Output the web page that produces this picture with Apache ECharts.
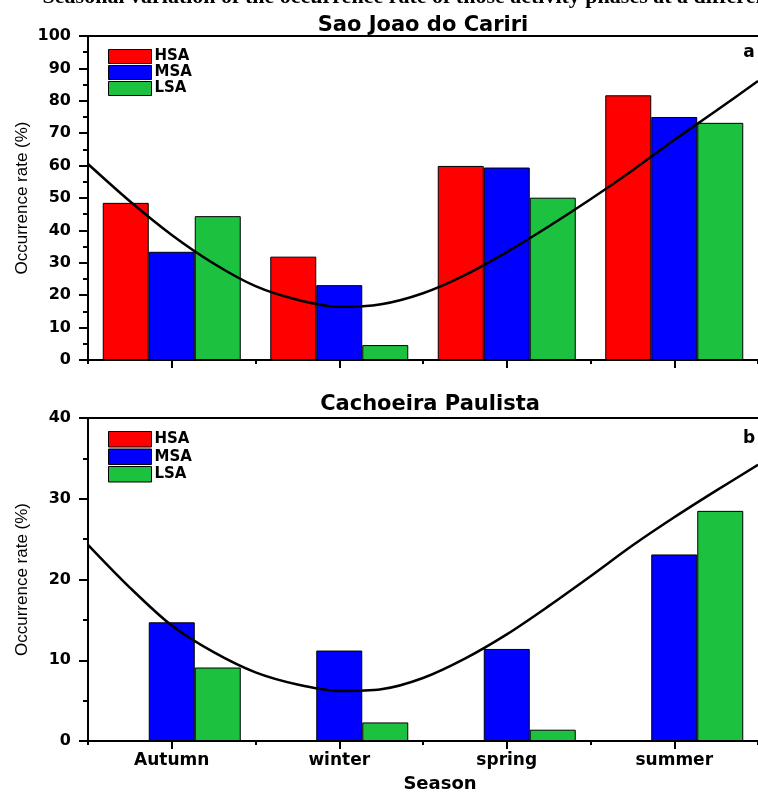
<!DOCTYPE html>
<html>
<head>
<meta charset="utf-8">
<script src="https://cdn.jsdelivr.net/npm/echarts@6/dist/echarts.min.js"></script>
<style>
  html, body { margin: 0; padding: 0; background: #fff; }
  #chart { width: 758px; height: 792px; }
</style>
</head>
<body>
<div id="chart"></div>
<script>
// Seasons on the category axis
const seasons = ['Autumn', 'winter', 'spring', 'summer'];

// Sao Joao do Cariri: occurrence rate (%) per activity phase
const sjcHSA = [48.5, 31.9, 59.9, 81.7];
const sjcMSA = [33.4, 23.1, 59.4, 75.0];
const sjcLSA = [44.4, 4.6, 50.1, 73.2];

// Cachoeira Paulista: occurrence rate (%) per activity phase
const cpHSA = [0, 0, 0, 0];
const cpMSA = [14.7, 11.2, 11.4, 23.1];
const cpLSA = [9.1, 2.3, 1.4, 28.5];

// Seasonal trend curves, sampled every quarter season (Autumn = 0)
const fitX = [-0.5, -0.25, 0, 0.25, 0.5, 0.75, 1, 1.25, 1.5, 1.75, 2, 2.25, 2.5, 2.75, 3, 3.25, 3.5];
const sjcFitY = [60.5, 49.0, 38.6, 29.8, 22.8, 18.6, 16.4, 17.2, 20.6, 26.2, 33.3, 41.2, 49.6, 58.5, 67.9, 76.9, 86.1];
const cpFitY = [24.3, 19.0, 14.3, 11.0, 8.5, 7.0, 6.2, 6.4, 7.8, 10.2, 13.2, 16.7, 20.4, 24.2, 27.7, 31.0, 34.2];

// Axis ranges
const sjcMax = 100, sjcStep = 10;
const cpMax = 40, cpStep = 10;

const phaseNames = ['HSA', 'MSA', 'LSA'];
const phaseColors = ['#ff0000', '#0000ff', '#1bc13f'];

const BOLD = 'DejaVu Sans';
const ink = '#000';

function zip(xs, ys) { return xs.map((x, i) => [x, ys[i]]); }

function xAxesFor(grid, showLabels) {
  return [
    { // category axis with ticks under each season
      type: 'category', gridIndex: grid, data: seasons, position: 'bottom',
      axisLine: { show: true, onZero: false, lineStyle: { color: ink, width: 2 } },
      axisTick: { show: true, alignWithLabel: true, length: 8, lineStyle: { color: ink, width: 2 } },
      axisLabel: { show: showLabels, color: ink, fontFamily: BOLD, fontWeight: 'bold', fontSize: 17, margin: 11 },
      splitLine: { show: false }
    },
    { // short ticks on the category boundaries
      type: 'category', gridIndex: grid, data: seasons, position: 'bottom',
      axisLine: { show: false, onZero: false },
      axisTick: { show: true, alignWithLabel: false, length: 4, lineStyle: { color: ink, width: 2 } },
      axisLabel: { show: false },
      splitLine: { show: false }
    },
    { // continuous axis for the trend curve, also draws the top frame line
      type: 'value', gridIndex: grid, min: -0.5, max: 3.5, position: 'top',
      axisLine: { show: true, onZero: false, lineStyle: { color: ink, width: 2 } },
      axisTick: { show: false }, axisLabel: { show: false }, splitLine: { show: false }
    }
  ];
}

function yAxisFor(grid, max, step) {
  return {
    type: 'value', gridIndex: grid, min: 0, max: max, interval: step, position: 'left',
    name: 'Occurrence rate (%)', nameLocation: 'middle', nameGap: 57, nameMoveOverlap: false,
    nameTextStyle: { color: ink, fontFamily: 'Liberation Sans, Arial', fontSize: 17 },
    axisLine: { show: true, onZero: false, lineStyle: { color: ink, width: 2 } },
    axisTick: { show: true, length: 9, lineStyle: { color: ink, width: 2 } },
    minorTick: { show: true, splitNumber: 2, length: 5, lineStyle: { color: ink, width: 2 } },
    axisLabel: { color: ink, fontFamily: BOLD, fontWeight: 'bold', fontSize: 16, margin: 17 },
    splitLine: { show: false }
  };
}

function barSeries(name, data, color, xIdx, yIdx) {
  return {
    name: name, type: 'bar', data: data, xAxisIndex: xIdx, yAxisIndex: yIdx,
    barWidth: 46, barGap: '0%',
    itemStyle: { color: color, borderColor: ink, borderWidth: 1 },
    emphasis: { disabled: true }
  };
}

function curveSeries(name, data, xIdx, yIdx) {
  return {
    name: name, type: 'line', data: data, xAxisIndex: xIdx, yAxisIndex: yIdx,
    smooth: 0.3, showSymbol: false, symbol: 'none', z: 5, silent: true,
    lineStyle: { color: ink, width: 2.5 }
  };
}

function legendFor(top, h) {
  return {
    orient: 'vertical', left: 103, top: top,
    data: phaseNames, icon: 'rect', itemWidth: 43, itemHeight: h, itemGap: 1,
    selectedMode: false,
    itemStyle: { borderColor: ink, borderWidth: 1 },
    textStyle: { color: ink, fontFamily: BOLD, fontWeight: 'bold', fontSize: 15, lineHeight: h, padding: [0, 0, 0, -2] }
  };
}

const chart = echarts.init(document.getElementById('chart'), null, { renderer: 'canvas' });

chart.setOption({
  backgroundColor: '#fff',
  animation: false,
  grid: [
    { left: 88, top: 36, width: 680, height: 324 },
    { left: 88, top: 418, width: 680, height: 323 }
  ],
  xAxis: [].concat(xAxesFor(0, false), xAxesFor(1, true)),
  yAxis: [yAxisFor(0, sjcMax, sjcStep), yAxisFor(1, cpMax, cpStep)],
  legend: [legendFor(44, 14), legendFor(426, 15.5)],
  series: [
    barSeries('HSA', sjcHSA, phaseColors[0], 0, 0),
    barSeries('MSA', sjcMSA, phaseColors[1], 0, 0),
    barSeries('LSA', sjcLSA, phaseColors[2], 0, 0),
    curveSeries('sjc trend', zip(fitX, sjcFitY), 2, 0),
    barSeries('HSA', cpHSA, phaseColors[0], 3, 1),
    barSeries('MSA', cpMSA, phaseColors[1], 3, 1),
    barSeries('LSA', cpLSA, phaseColors[2], 3, 1),
    curveSeries('cp trend', zip(fitX, cpFitY), 5, 1)
  ],
  graphic: [
    { type: 'text', style: { x: 775, y: -14, text: 'Seasonal variation of the occurrence rate of those activity phases at a different', align: 'right', verticalAlign: 'top', font: 'bold 22px "Liberation Serif", serif', fill: '#000' } },
    { type: 'text', style: { x: 423, y: 26, text: 'Sao Joao do Cariri', align: 'center', verticalAlign: 'middle', font: 'bold 21px "DejaVu Sans"', fill: ink } },
    { type: 'text', style: { x: 430, y: 405, text: 'Cachoeira Paulista', align: 'center', verticalAlign: 'middle', font: 'bold 21px "DejaVu Sans"', fill: ink } },
    { type: 'text', style: { x: 749, y: 53, text: 'a', align: 'center', verticalAlign: 'middle', font: 'bold 17px "DejaVu Sans"', fill: ink } },
    { type: 'text', style: { x: 749, y: 439, text: 'b', align: 'center', verticalAlign: 'middle', font: 'bold 17px "DejaVu Sans"', fill: ink } },
    { type: 'text', style: { x: 440, y: 784, text: 'Season', align: 'center', verticalAlign: 'middle', font: 'bold 18px "DejaVu Sans"', fill: ink } }
  ]
});
</script>
</body>
</html>
